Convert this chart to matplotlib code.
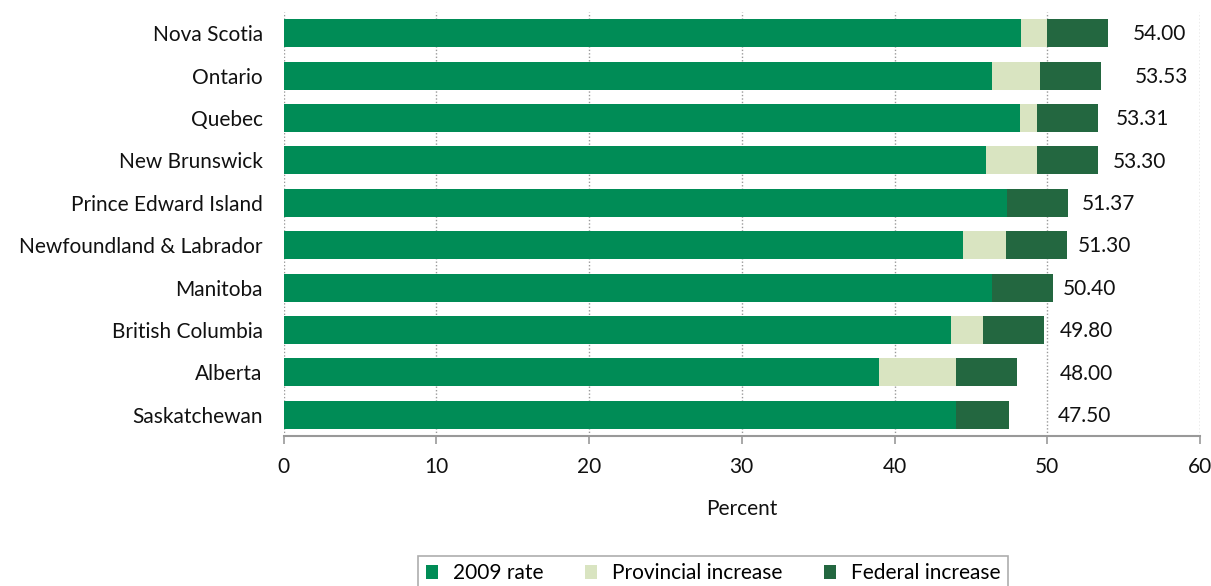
import matplotlib.pyplot as plt
import numpy as np

plt.rcParams['font.family'] = ['Lato', 'DejaVu Sans']

provinces = ['Nova Scotia', 'Ontario', 'Quebec', 'New Brunswick',
             'Prince Edward Island', 'Newfoundland & Labrador', 'Manitoba',
             'British Columbia', 'Alberta', 'Saskatchewan']
rate_2009 = [48.25, 46.41, 48.22, 46.00, 47.37, 44.50, 46.40, 43.70, 39.00, 44.00]
provincial = [1.75, 3.12, 1.09, 3.30, 0.00, 2.80, 0.00, 2.10, 5.00, 0.00]
federal = [4.00, 4.00, 4.00, 4.00, 4.00, 4.00, 4.00, 4.00, 4.00, 3.50]
totals = ['54.00', '53.53', '53.31', '53.30', '51.37', '51.30', '50.40', '49.80', '48.00', '47.50']

# gap between end of bar and its total label
label_pad = [1.6, 2.2, 1.2, 1.0, 0.9, 0.7, 0.6, 1.0, 2.8, 3.2]

c_rate = '#008c56'
c_prov = '#d9e4c1'
c_fed = '#236740'
txt_c = '#111111'
fs = 15

fig = plt.figure(figsize=(12.11, 5.86), dpi=100)
ax = fig.add_axes([283.5 / 1211, 1 - 436 / 586, (1200 - 283.5) / 1211, (436 - 12) / 586])

y = np.arange(len(provinces))
r = np.array(rate_2009)
p = np.array(provincial)
f = np.array(federal)
h = 0.66
ax.barh(y, r, height=h, color=c_rate, label='2009 rate', zorder=3)
ax.barh(y, p, left=r, height=h, color=c_prov, label='Provincial increase', zorder=3)
ax.barh(y, f, left=r + p, height=h, color=c_fed, label='Federal increase', zorder=3)

for i, txt in enumerate(totals):
    end = r[i] + p[i] + f[i]
    ax.text(end + label_pad[i], y[i] + 0.03, txt, ha='left', va='center',
            fontsize=fs, color=txt_c)

ax.set_ylim(len(provinces) - 0.5, -0.5)
ax.set_xlim(0, 60)
ax.set_xticks(range(0, 61, 10))
ax.set_yticks(y)
ax.set_yticklabels(provinces, fontsize=fs, color=txt_c)
ax.tick_params(axis='y', length=0, pad=15)
ax.tick_params(axis='x', length=6, width=1.2, color='#999999', labelsize=fs,
               labelcolor=txt_c, pad=9)
ax.grid(axis='x', linestyle=(0, (1, 1.5)), color='#999999', linewidth=1, zorder=0)

for side in ['top', 'right', 'left']:
    ax.spines[side].set_visible(False)
ax.spines['bottom'].set_color('#999999')
ax.spines['bottom'].set_linewidth(1.5)

ax.set_xlabel('Percent', fontsize=fs, color=txt_c, labelpad=16)

leg = fig.legend(loc='upper center', bbox_to_anchor=(713 / 1211, 1 - 556 / 586),
                 borderaxespad=0, ncol=3, frameon=True, fancybox=False, fontsize=fs,
                 handlelength=0.6, handleheight=0.6, columnspacing=2.0,
                 handletextpad=0.7, borderpad=0.35)
leg.get_frame().set_edgecolor('#999999')
leg.get_frame().set_linewidth(1.2)

fig.savefig('out.png', dpi=100)
